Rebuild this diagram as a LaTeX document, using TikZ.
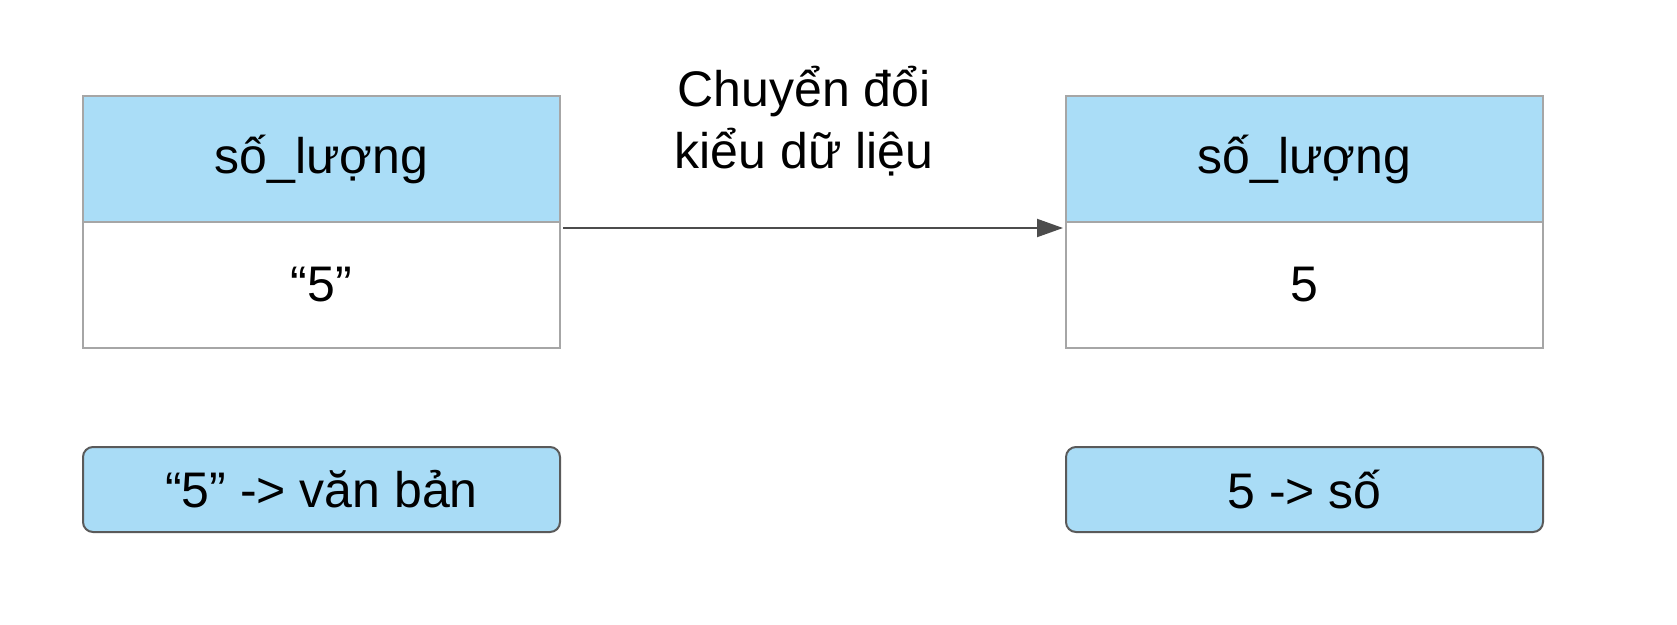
\documentclass[tikz,border=0pt]{standalone}
\usepackage{fontspec}
\setmainfont{Liberation Sans}
\usetikzlibrary{arrows.meta}
\definecolor{hdr}{HTML}{AADDF7}
\definecolor{bd}{HTML}{A6A6A6}
\definecolor{tag}{HTML}{A9DCF6}
\definecolor{tagbd}{HTML}{5A5A5A}
\begin{document}
\begin{tikzpicture}[x=1pt,y=-1pt,
  txt/.style={font=\fontsize{50}{60}\selectfont, text=black},
  hd/.style={draw=bd, line width=2pt, fill=hdr, minimum width=477pt, minimum height=126pt, inner sep=0pt, txt},
  bdy/.style={draw=bd, line width=2pt, fill=white, minimum width=477pt, minimum height=126pt, inner sep=0pt, txt},
  tg/.style={draw=tagbd, line width=2pt, fill=tag, rounded corners=10pt, minimum width=477pt, minimum height=85pt, inner sep=0pt, txt}]
\useasboundingbox (0,0) rectangle (1677,624);
\fill[white] (0,0) rectangle (1677,624);
\node[hd] (h1) at (321.5,159) {số\_lượng};
\node[bdy] (b1) at (321.5,285) {“5”};
\node[hd] (h2) at (1304.5,159) {số\_lượng};
\node[bdy] (b2) at (1304.5,285) {5};
\node[tg] (t1) at (321.5,489.5) {“5” -> văn bản};
\node[tg] (t2) at (1304.5,489.5) {5 -> số};
\coordinate (s) at (563,228);
\coordinate (e) at (1063,228);
\draw[line width=2pt, color=black!70, -{Triangle[length=26pt,width=18pt]}] (s) -- (e);
\node[txt, align=center] (lbl) at (804,121) {Chuyển đổi\\[2pt]kiểu dữ liệu};
\end{tikzpicture}
\end{document}
